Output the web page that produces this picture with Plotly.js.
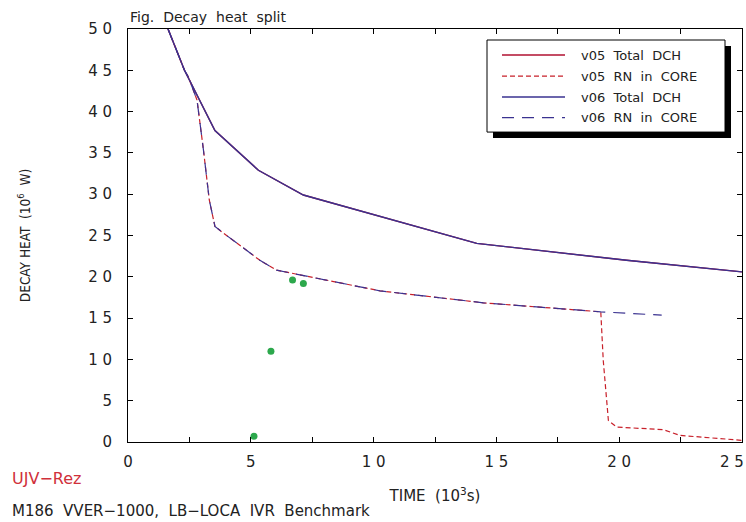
<!DOCTYPE html>
<html><head><meta charset="utf-8">
<script src="https://cdn.plot.ly/plotly-3.0.1.min.js"></script>
<style>html,body{margin:0;padding:0;background:#fff}#chart{width:746px;height:522px}</style>
</head><body><div id="chart"></div>
<script>
// Total decay heat (both versions overlap)
const totalX = [1.63, 2.3, 3.54, 5.31, 7.14, 10.26, 14.2, 20.3, 25.0];
const totalY05 = [50.0, 45.0, 37.7, 32.9, 29.9, 27.3, 24.05, 22.0, 20.6];
const totalY06 = [50.0, 45.0, 37.7, 32.9, 29.9, 27.3, 24.05, 22.0, 20.6];
// RN in core
const rn05X = [1.63, 2.3, 2.46, 2.81, 3.07, 3.31, 3.54, 3.88, 5.37, 6.05, 10.26, 14.47, 19.25, 19.35, 19.56, 19.9, 21.8, 22.47, 25.0];
const rn05Y = [50.0, 45.0, 44.2, 41.4, 35.4, 29.3, 26.1, 25.3, 22.0, 20.8, 18.3, 16.85, 15.76, 9.9, 2.6, 1.8, 1.5, 0.8, 0.2];
const rn06X = [1.63, 2.3, 2.46, 2.81, 3.07, 3.31, 3.54, 3.88, 5.37, 6.05, 10.26, 14.47, 19.25, 21.73];
const rn06Y = [50.0, 45.0, 44.2, 41.4, 35.4, 29.3, 26.1, 25.3, 22.0, 20.8, 18.3, 16.85, 15.76, 15.36];
// Reference points
const refX = [5.13, 5.82, 6.70, 7.14];
const refY = [0.7, 11.0, 19.6, 19.2];
// Ticks
const xTickVals = [0, 5, 10, 15, 20];
const xTickText = ['0', '5', '1&nbsp;0', '1&nbsp;5', '2&nbsp;0'];
const xLastLabel = '2&nbsp;5';
const yTickVals = [0, 5, 10, 15, 20, 25, 30, 35, 40, 45, 50];
const yTickText = ['0', '5', '1&nbsp;0', '1&nbsp;5', '2&nbsp;0', '2&nbsp;5', '3&nbsp;0', '3&nbsp;5', '4&nbsp;0', '4&nbsp;5', '5&nbsp;0'];
// Legend entries
const legendNames = ['v05&nbsp;&nbsp;Total&nbsp;&nbsp;DCH', 'v05&nbsp;&nbsp;RN&nbsp;&nbsp;in&nbsp;&nbsp;CORE', 'v06&nbsp;&nbsp;Total&nbsp;&nbsp;DCH', 'v06&nbsp;&nbsp;RN&nbsp;&nbsp;in&nbsp;&nbsp;CORE'];

const RED = '#c8202a', DRED = '#b01030', BLUE = '#3a3290', GREEN = '#2ca84c';
const FONT = 'DejaVu Sans, sans-serif';
const styles = [
  {color: DRED, width: 1.4, dash: 'solid'},
  {color: RED, width: 1.2, dash: '5px,3px'},
  {color: BLUE, width: 1.4, dash: 'solid'},
  {color: BLUE, width: 1.2, dash: '12px,8px'}
];

const traces = [
  {x: totalX, y: totalY05, mode: 'lines', name: legendNames[0], line: styles[0]},
  {x: rn05X, y: rn05Y, mode: 'lines', name: legendNames[1], line: styles[1]},
  {x: totalX, y: totalY06, mode: 'lines', name: legendNames[2], line: styles[2]},
  {x: rn06X, y: rn06Y, mode: 'lines', name: legendNames[3], line: styles[3]},
  {x: refX, y: refY, mode: 'markers', name: 'ref', marker: {color: GREEN, size: 7}}
];

// pixel -> paper helpers (plot area: x 128..742, y 29..441.7)
const L = 128, W = 614, B = 441.7, H = 412.7;
const px = v => (v - L) / W;
const py = v => (B - v) / H;

const shapes = [
  {type: 'rect', xref: 'paper', yref: 'paper', x0: px(493), x1: px(731), y0: py(138), y1: py(46), fillcolor: '#000', line: {width: 0}, layer: 'above'},
  {type: 'rect', xref: 'paper', yref: 'paper', x0: px(487), x1: px(725), y0: py(132), y1: py(40), fillcolor: '#fff', line: {color: '#000', width: 1}, layer: 'above'}
];
const annotations = [
  {text: 'Fig.&nbsp;&nbsp;Decay&nbsp;&nbsp;heat&nbsp;&nbsp;split', xref: 'paper', yref: 'paper', x: 0, y: 1, xanchor: 'left', yanchor: 'bottom', yshift: 2, showarrow: false, font: {family: FONT, size: 14, color: '#222'}},
  {text: 'UJV−Rez', xref: 'paper', yref: 'paper', x: px(10), y: py(478), xanchor: 'left', yanchor: 'middle', showarrow: false, font: {family: FONT, size: 16, color: '#d0303a'}},
  {text: 'M186&nbsp;&nbsp;VVER−1000,&nbsp;&nbsp;LB−LOCA&nbsp;&nbsp;IVR&nbsp;&nbsp;Benchmark', xref: 'paper', yref: 'paper', x: px(10), y: py(511), xanchor: 'left', yanchor: 'middle', showarrow: false, font: {family: FONT, size: 15, color: '#222'}},
  {text: xLastLabel, xref: 'x', yref: 'paper', x: 25, y: py(462), xanchor: 'right', yanchor: 'middle', xshift: 4, showarrow: false, font: {family: FONT, size: 15, color: '#222'}}
];
const rowsY = [55, 76, 97, 117.5];
rowsY.forEach((ry, i) => {
  shapes.push({type: 'line', xref: 'paper', yref: 'paper', x0: px(502), x1: px(565), y0: py(ry), y1: py(ry), line: styles[i], layer: 'above'});
  annotations.push({text: legendNames[i], xref: 'paper', yref: 'paper', x: px(579), y: py(ry), xanchor: 'left', yanchor: 'middle', showarrow: false, font: {family: FONT, size: 13, color: '#222'}});
});

const layout = {
  width: 746, height: 522,
  margin: {l: 128, r: 4, t: 29, b: 80},
  paper_bgcolor: '#fff', plot_bgcolor: '#fff',
  font: {family: FONT, color: '#222', size: 13},
  showlegend: false,
  xaxis: {
    range: [0, 25], tickvals: xTickVals, ticktext: xTickText,
    ticks: 'inside', ticklen: 5, tickcolor: '#000', showgrid: false, zeroline: false,
    minor: {dtick: 2.5, tick0: 0, ticks: 'inside', ticklen: 5, tickcolor: '#000', showgrid: false},
    showline: true, linecolor: '#000', linewidth: 1, mirror: 'ticks',
    ticklabelstandoff: 6,
    tickfont: {family: FONT, size: 15, color: '#222'},
    title: {text: 'TIME&nbsp;&nbsp;(10<sup>3</sup>s)', font: {family: FONT, size: 15, color: '#222'}, standoff: 20}
  },
  yaxis: {
    range: [0, 50], tickvals: yTickVals, ticktext: yTickText,
    ticks: 'inside', ticklen: 5, tickcolor: '#000', showgrid: false, zeroline: false,
    showline: true, linecolor: '#000', linewidth: 1, mirror: 'ticks',
    ticklabelstandoff: 12,
    tickfont: {family: FONT, size: 15, color: '#222'},
    title: {text: 'DECAY HEAT&nbsp;&nbsp;(10<sup>6</sup>&nbsp;&nbsp;W)', font: {family: 'DejaVu Sans Condensed, DejaVu Sans, sans-serif', size: 13.5, color: '#222'}, standoff: 54}
  },
  annotations: annotations,
  shapes: shapes
};

Plotly.newPlot('chart', traces, layout, {staticPlot: true});
</script></body></html>
